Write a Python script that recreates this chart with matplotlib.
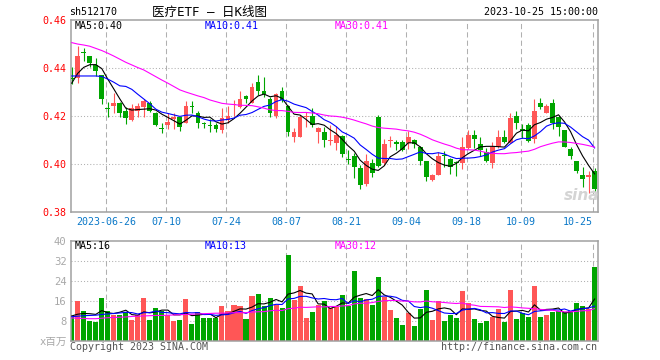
import numpy as np
import matplotlib
matplotlib.use('Agg')
import matplotlib.pyplot as plt
from matplotlib.transforms import blended_transform_factory

plt.rcParams['font.family'] = ['DejaVu Sans Mono', 'Noto Sans CJK SC']

# sh512170 daily K, 2023-06-14 .. 2023-10-25 (88 trading days)
opens = [0.436, 0.436, 0.447, 0.4451, 0.4414, 0.4372, 0.4235, 0.4243, 0.4254, 0.4222,
         0.4185, 0.4224, 0.4238, 0.4254, 0.4215, 0.4151, 0.4164, 0.4188, 0.4196, 0.4174,
         0.4241, 0.4215, 0.4169, 0.4161, 0.4164, 0.4143, 0.4185, 0.4246, 0.4238, 0.4285,
         0.4257, 0.4342, 0.4306, 0.4272, 0.4201, 0.4306, 0.4243, 0.4115, 0.4115, 0.4196,
         0.4201, 0.4136, 0.4136, 0.4097, 0.4088, 0.4118, 0.4021, 0.4035, 0.3986, 0.3918,
         0.4004, 0.4197, 0.4007, 0.4097, 0.4092, 0.4092, 0.4088, 0.4101, 0.4074, 0.4014,
         0.3936, 0.3956, 0.4036, 0.4022, 0.4005, 0.4007, 0.4069, 0.4121, 0.4083, 0.4053,
         0.4007, 0.4074, 0.4115, 0.409, 0.4201, 0.4148, 0.4164, 0.4104, 0.4257, 0.4215,
         0.4257, 0.4196, 0.4143, 0.4064, 0.4014, 0.3956, 0.3946, 0.3974]
highs = [0.4405, 0.4495, 0.4483, 0.4452, 0.4442, 0.4373, 0.4261, 0.4296, 0.4258, 0.4238,
         0.4251, 0.4257, 0.4271, 0.4265, 0.4216, 0.4171, 0.4213, 0.4213, 0.4197, 0.4265,
         0.4265, 0.4222, 0.4178, 0.4188, 0.4171, 0.4233, 0.4243, 0.4268, 0.4306, 0.429,
         0.434, 0.4372, 0.4365, 0.4282, 0.4296, 0.4324, 0.4247, 0.415, 0.4206, 0.4219,
         0.4233, 0.4154, 0.4157, 0.4164, 0.416, 0.4122, 0.406, 0.4046, 0.3997, 0.4041,
         0.4022, 0.4204, 0.4106, 0.412, 0.4101, 0.4101, 0.414, 0.4104, 0.4075, 0.4015,
         0.3958, 0.4053, 0.4057, 0.4025, 0.4015, 0.4113, 0.4143, 0.4143, 0.4113, 0.4067,
         0.4094, 0.4143, 0.4143, 0.4215, 0.4224, 0.4168, 0.4174, 0.4272, 0.4275, 0.4251,
         0.4272, 0.4201, 0.4144, 0.4071, 0.4015, 0.3988, 0.3974, 0.3983]
lows = [0.4335, 0.434, 0.4432, 0.4405, 0.437, 0.4252, 0.4199, 0.4215, 0.4197, 0.4168,
        0.4182, 0.4196, 0.4199, 0.4217, 0.4161, 0.4132, 0.4146, 0.4146, 0.414, 0.4171,
        0.4215, 0.415, 0.415, 0.4136, 0.4136, 0.4132, 0.4171, 0.4201, 0.4235, 0.4254,
        0.4254, 0.4289, 0.4282, 0.4199, 0.4192, 0.4261, 0.4118, 0.4092, 0.4112, 0.4157,
        0.4157, 0.409, 0.4071, 0.408, 0.406, 0.4029, 0.4, 0.3942, 0.3897, 0.391,
        0.3949, 0.3987, 0.3998, 0.4071, 0.406, 0.4057, 0.4065, 0.407, 0.3997, 0.3932,
        0.3932, 0.3955, 0.3988, 0.396, 0.3953, 0.398, 0.4063, 0.4067, 0.4035, 0.401,
        0.3983, 0.4067, 0.4088, 0.4088, 0.4149, 0.4108, 0.4094, 0.409, 0.4229, 0.4212,
        0.4149, 0.4118, 0.4071, 0.4021, 0.3965, 0.3907, 0.388, 0.3868]
closes = [0.4355, 0.445, 0.4462, 0.4422, 0.4388, 0.4272, 0.4231, 0.4257, 0.4215, 0.4193,
          0.4233, 0.4243, 0.4265, 0.4224, 0.4164, 0.4148, 0.4176, 0.4196, 0.4154, 0.4243,
          0.4239, 0.4174, 0.4167, 0.4159, 0.4146, 0.4192, 0.4201, 0.4253, 0.4271, 0.4272,
          0.4321, 0.4306, 0.4293, 0.4215, 0.4293, 0.4268, 0.4136, 0.4133, 0.4196, 0.4201,
          0.4164, 0.4153, 0.4101, 0.4101, 0.4122, 0.4043, 0.4018, 0.399, 0.3912, 0.4013,
          0.3965, 0.3993, 0.4085, 0.4101, 0.4086, 0.406, 0.4115, 0.4086, 0.4015, 0.3945,
          0.3955, 0.4035, 0.4034, 0.399, 0.4004, 0.4074, 0.4121, 0.4104, 0.406, 0.4015,
          0.4074, 0.4115, 0.4094, 0.4192, 0.4174, 0.4138, 0.4099, 0.4222, 0.4238, 0.4243,
          0.4174, 0.4154, 0.4074, 0.4036, 0.3974, 0.3938, 0.3956, 0.3896]
# volume, millions
volumes = [9.6, 16.0, 12.0, 7.7, 7.3, 17.2, 11.7, 10.4, 10.4, 11.3,
           8.4, 10.4, 17.2, 8.4, 13.2, 12.0, 10.4, 7.7, 8.4, 16.8,
           6.8, 11.6, 9.2, 9.2, 9.2, 14.0, 12.0, 14.4, 14.0, 8.8,
           18.0, 18.8, 14.0, 17.2, 14.4, 13.2, 34.4, 16.4, 22.0, 9.2,
           11.6, 14.4, 16.0, 13.1, 13.6, 18.4, 13.9, 28.0, 17.2, 16.8,
           14.4, 25.6, 17.6, 12.4, 9.2, 6.4, 11.2, 6.0, 12.8, 20.4,
           8.4, 16.0, 8.0, 10.4, 9.2, 20.0, 15.2, 8.8, 7.2, 8.0,
           9.6, 12.8, 7.6, 20.4, 8.8, 11.0, 9.6, 22.0, 9.6, 10.4,
           11.6, 11.8, 11.6, 12.0, 15.2, 14.0, 12.6, 29.6]
up_day = [False, True, False, False, False, False, False, True, False, False,
          True, True, True, False, False, False, True, True, False, True,
          False, False, False, False, False, True, True, True, True, False,
          True, False, False, False, True, False, False, True, True, True,
          False, True, False, True, True, False, False, False, False, True,
          False, False, True, True, False, False, True, False, False, False,
          True, True, False, False, False, True, True, False, False, False,
          True, True, False, True, False, False, False, True, False, True,
          False, False, False, False, False, False, True, False]

# MA values at the left edge (history before the window)
ma5_head = [0.4338, 0.4379, 0.4404, 0.4415]
ma10_head = [0.4368, 0.4368, 0.4368, 0.4368, 0.4368, 0.4366, 0.4355, 0.4342, 0.4327]
ma30_head = [0.4507, 0.4501, 0.4497, 0.4492, 0.4483, 0.4474, 0.4463, 0.4451, 0.4438, 0.4425,
             0.4414, 0.4403, 0.4393, 0.4379, 0.4365, 0.4351, 0.4338, 0.4324, 0.431, 0.4301,
             0.4293, 0.4285, 0.4278, 0.4268, 0.4261, 0.4254, 0.4251, 0.4249, 0.4246]
vma5_head = [9.9, 10.6, 10.9, 10.8]
vma10_head = [9.6, 9.8, 10.0, 10.1, 10.2, 10.5, 10.7, 10.9, 11.1]
vma30_head = [9.1, 9.0, 8.9, 8.8, 8.8, 9.0, 9.2, 9.3, 9.4, 9.5,
              9.7, 9.8, 9.9, 10.0, 10.1, 10.1, 10.2, 10.3, 10.4, 10.5,
              10.6, 10.7, 10.8, 10.9, 11.0, 11.0, 11.1, 11.2, 11.2]

date_pos = [6, 16, 26, 36, 46, 56, 66, 75, 87]
date_labels = ['2023-06-26', '07-10', '07-24', '08-07', '08-21', '09-04', '09-18', '10-09', '10-25']
price_ticks = [0.38, 0.40, 0.42, 0.44, 0.46]
vol_ticks = [0, 8, 16, 24, 32, 40]


def moving_avg(vals, n, head):
    vals = np.asarray(vals, dtype=float)
    out = list(head)
    for k in range(n - 1, len(vals)):
        out.append(vals[k - n + 1:k + 1].mean())
    return np.array(out)


RED = '#ff5656'
GREEN = '#00a500'
GRID = '#b0b0b0'
W, H = 660, 360


def fx(px):
    return px / W


def fy(py):
    return 1 - py / H


n = len(closes)
x = np.arange(n)
colors = [RED if u else GREEN for u in up_day]

ma5 = moving_avg(closes, 5, ma5_head)
ma10 = moving_avg(closes, 10, ma10_head)
ma30 = moving_avg(closes, 30, ma30_head)
vma5 = moving_avg(volumes, 5, vma5_head)
vma10 = moving_avg(volumes, 10, vma10_head)
vma30 = moving_avg(volumes, 30, vma30_head)

fig = plt.figure(figsize=(6.6, 3.6), dpi=100)
ax = fig.add_axes([fx(70.7), fy(212.3), fx(597.7 - 70.7), (212.3 - 20.3) / H])
ax2 = fig.add_axes([fx(70.7), fy(340.7), fx(597.7 - 70.7), (340.7 - 240.7) / H])

for a in (ax, ax2):
    a.set_xlim(-0.17, 87.52)
    a.set_xticks([])
    for s in a.spines.values():
        s.set_color('#a0a0a0')
        s.set_linewidth(1.1)
    for p in date_pos:
        a.axvline(p - 0.3, color=GRID, lw=0.75, ls=(0, (5, 3)), zorder=0)

# price panel
ax.set_ylim(0.38, 0.46)
for v in price_ticks[1:-1]:
    ax.axhline(v, color=GRID, lw=0.75, ls=(0, (1, 2)), zorder=0)

o = np.array(opens)
c = np.array(closes)
ax.vlines(x, lows, highs, colors=colors, lw=0.8, zorder=2)
body = np.maximum(np.abs(c - o), 0.00045)
ax.bar(x, body, bottom=np.minimum(o, c), width=0.8, color=colors, zorder=3)

ax.plot(x, ma5, color='black', lw=0.8, zorder=4)
ax.plot(x, ma10, color='#0000ff', lw=0.8, zorder=4)
ax.plot(x, ma30, color='#ff00ff', lw=0.8, zorder=4)

ax.set_yticks(price_ticks)
ax.set_yticklabels(['%.2f' % t for t in price_ticks], color='#ff0000', fontsize=7.2)
ax.tick_params(axis='y', length=0, pad=3)

ax.text(0.007, 0.969, 'MA5:%.2f' % ma5[-1], transform=ax.transAxes, fontsize=7.2,
        color='black', va='center')
ax.text(0.255, 0.969, 'MA10:%.2f' % ma10[-1], transform=ax.transAxes, fontsize=7.2,
        color='#0000ff', va='center')
ax.text(0.501, 0.969, 'MA30:%.2f' % ma30[-1], transform=ax.transAxes, fontsize=7.2,
        color='#ff00ff', va='center')

tr = blended_transform_factory(ax.transData, fig.transFigure)
for p, lab in zip(date_pos, date_labels):
    ha = 'right' if p == date_pos[-1] else 'center'
    ax.text(p - 0.3, fy(221.7), lab, transform=tr, ha=ha, va='center',
            fontsize=7.2, color='#0a78c8')

fig.text(fx(582), fy(196), 'sina', fontsize=11, color='#d4d4d4', ha='center',
         va='center', style='italic', weight='bold', family='DejaVu Sans')

# volume panel
ax2.set_ylim(0, 40)
for v in vol_ticks[1:-1]:
    ax2.axhline(v, color=GRID, lw=0.75, ls=(0, (1, 2)), zorder=0)
ax2.bar(x, volumes, width=0.84, color=colors, zorder=2)
ax2.plot(x, vma5, color='black', lw=0.8, zorder=4)
ax2.plot(x, vma10, color='#0000ff', lw=0.8, zorder=4)
ax2.plot(x, vma30, color='#ff00ff', lw=0.8, zorder=4)

ax2.set_yticks(vol_ticks)
ax2.set_yticklabels(['x百万'] + [str(t) for t in vol_ticks[1:]], color='#a8a8a8', fontsize=7.6)
ax2.tick_params(axis='y', length=0, pad=3)

ax2.text(0.008, 0.945, 'MA5:%d' % int(vma5[-1]), transform=ax2.transAxes, fontsize=7.2,
         color='black', va='center')
ax2.text(0.255, 0.945, 'MA10:%d' % int(vma10[-1]), transform=ax2.transAxes, fontsize=7.2,
         color='#0000ff', va='center')
ax2.text(0.501, 0.945, 'MA30:%d' % int(vma30[-1]), transform=ax2.transAxes, fontsize=7.2,
         color='#ff00ff', va='center')

# header / footer
fig.text(fx(69.4), fy(12.3), 'sh512170', fontsize=7.2, va='center')
fig.text(fx(209), fy(12.3), '医疗ETF — 日K线图', fontsize=9, ha='center', va='center')
fig.text(fx(597.5), fy(12.3), '2023-10-25 15:00:00', fontsize=7.2, ha='right', va='center')
fig.text(fx(70), fy(346.5), 'Copyright 2023 SINA.COM', fontsize=7.2, color='#555555', va='center')
fig.text(fx(597), fy(346.5), 'http://finance.sina.com.cn', fontsize=7.2, color='#555555',
         ha='right', va='center')

fig.savefig('out.png', dpi=100, facecolor='white')
